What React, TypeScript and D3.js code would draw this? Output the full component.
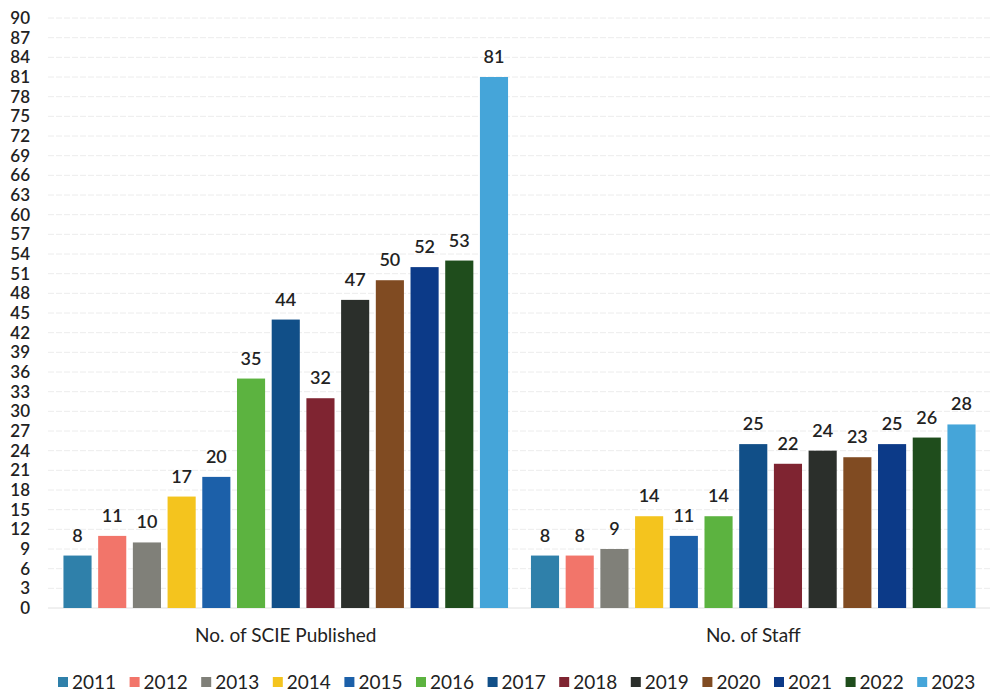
import React from "react";
import * as d3 from "d3";

const categories = ["No. of SCIE Published", "No. of Staff"];
const years = ["2011", "2012", "2013", "2014", "2015", "2016", "2017", "2018", "2019", "2020", "2021", "2022", "2023"];
const scieValues = [8, 11, 10, 17, 20, 35, 44, 32, 47, 50, 52, 53, 81];
const staffValues = [8, 8, 9, 14, 11, 14, 25, 22, 24, 23, 25, 26, 28];
const yearColors = [
  "#2f80aa", "#f2756a", "#808079", "#f4c41e", "#1c60a9", "#5cb340", "#114f88",
  "#7f2431", "#2b2f2b", "#804b22", "#0c3a88", "#1f4d1c", "#45a5d9",
];
const yTicks = d3.range(0, 91, 3);

const W = 1000;
const H = 693;
const FONT = "Lato, 'Open Sans', sans-serif";

export default function App() {
  const seriesValues = [scieValues, staffValues];
  const y = d3.scaleLinear().domain([0, 90]).range([608, 18]);
  const x0 = d3.scaleBand<string>().domain(categories).range([52, 987]).padding(0);
  const x1 = d3
    .scaleBand<string>()
    .domain(years)
    .range([0, x0.bandwidth()])
    .paddingInner(0.19)
    .paddingOuter(0.33);

  return (
    <svg
      width={W}
      height={H}
      viewBox={`0 0 ${W} ${H}`}
      style={{ position: "absolute", left: 0, top: 0, background: "#fff" }}
    >
      <rect x={0} y={0} width={W} height={H} fill="#fff" />
      {yTicks.map((t) => (
        <g key={t}>
          {t > 0 && (
            <line x1={48} x2={990} y1={y(t)} y2={y(t)} stroke="#ececec" strokeWidth={1} strokeDasharray="6 2" />
          )}
          <text
            x={30}
            y={y(t)}
            dy="0.35em"
            textAnchor="end"
            fontFamily={FONT}
            fontSize={17}
            fontWeight={600}
            fill="#222"
          >
            {t}
          </text>
        </g>
      ))}
      <line x1={48} x2={990} y1={y(0)} y2={y(0)} stroke="#e0e0e0" strokeWidth={1} />
      {categories.map((c, ci) => (
        <g key={c} transform={`translate(${x0(c)},0)`}>
          {years.map((yr, i) => {
            const v = seriesValues[ci][i];
            const bx = x1(yr) as number;
            return (
              <g key={yr}>
                <rect x={bx} y={y(v)} width={x1.bandwidth()} height={y(0) - y(v)} fill={yearColors[i]} />
                <text
                  x={bx + x1.bandwidth() / 2}
                  y={y(v) - 14}
                  textAnchor="middle"
                  fontFamily={FONT}
                  fontSize={18}
                  fontWeight={600}
                  fill="#222"
                >
                  {v}
                </text>
              </g>
            );
          })}
          <text
            x={x0.bandwidth() / 2}
            y={642}
            textAnchor="middle"
            fontFamily={FONT}
            fontSize={19}
            fill="#222"
          >
            {c}
          </text>
        </g>
      ))}
      {years.map((yr, i) => {
        const lx = 58 + i * 71.6;
        return (
          <g key={yr} transform={`translate(${lx},682)`}>
            <rect x={0} y={-5} width={10} height={10} fill={yearColors[i]} />
            <text x={14} y={0} dy="0.36em" fontFamily={FONT} fontSize={19} fill="#222">
              {yr}
            </text>
          </g>
        );
      })}
    </svg>
  );
}
